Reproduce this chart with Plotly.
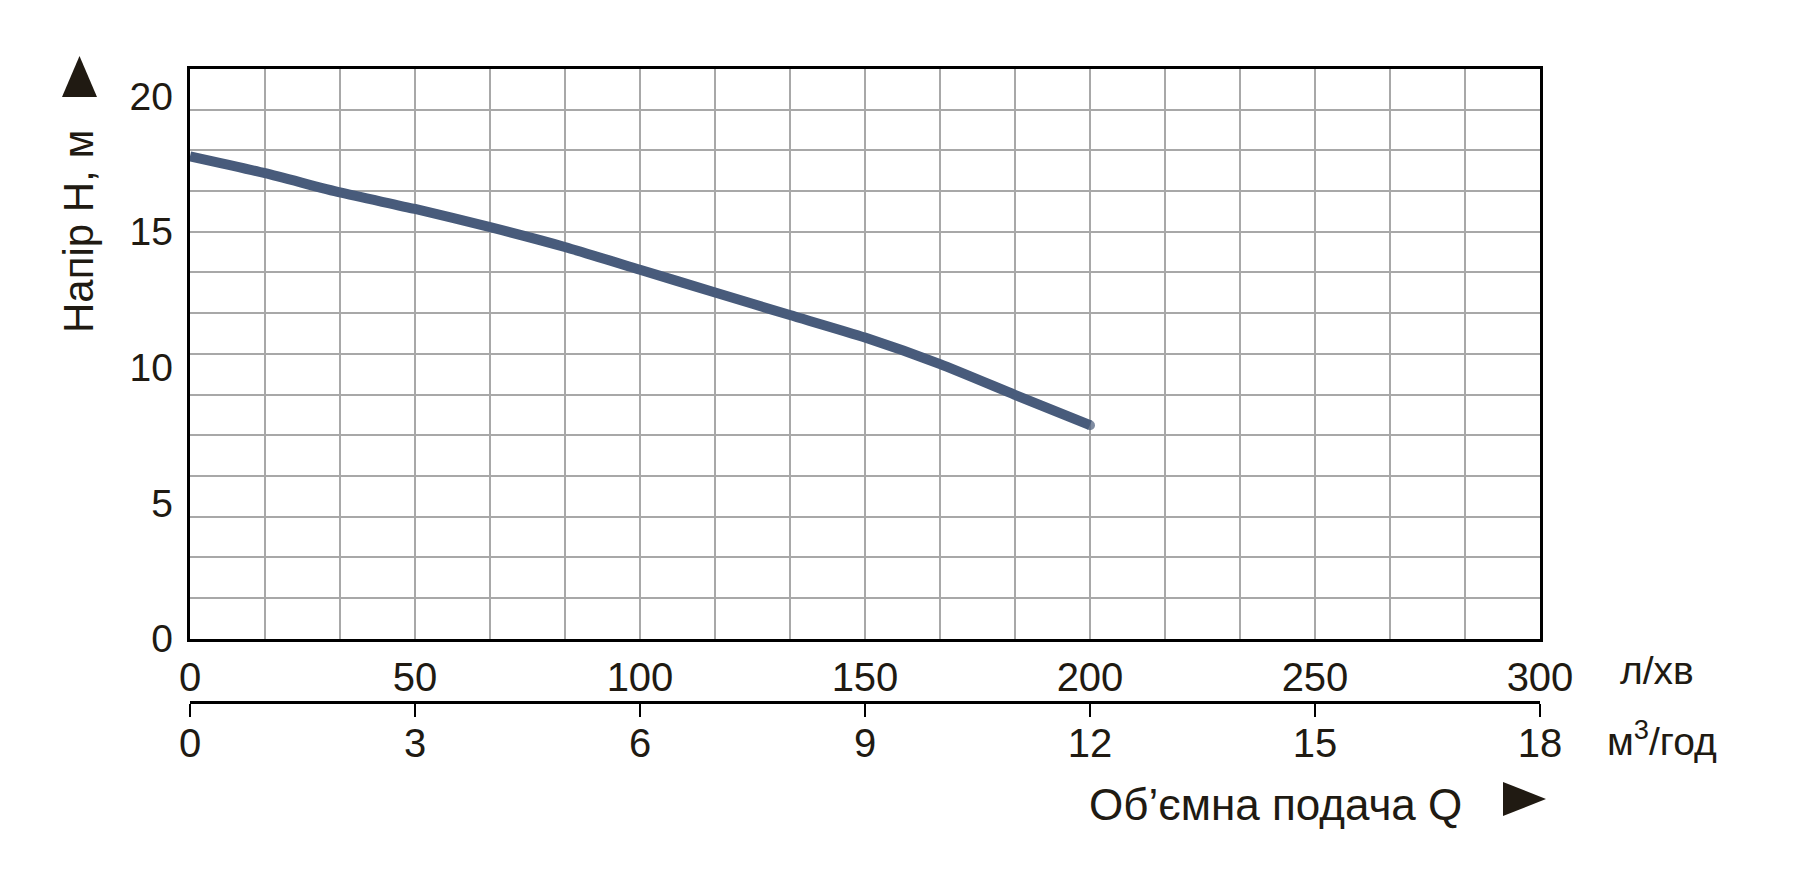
import plotly.graph_objects as go

# ---- data ----
flow_lpm = [0, 16.7, 33.3, 50, 66.7, 83.3, 100, 116.7, 133.3, 150, 166.7, 183.3, 200]
head_m = [17.78, 17.16, 16.45, 15.84, 15.17, 14.44, 13.60, 12.76, 11.93, 11.10, 10.12, 8.99, 7.87]

lpm_ticks = [0, 50, 100, 150, 200, 250, 300]
m3h_ticks = [0, 3, 6, 9, 12, 15, 18]
head_ticks = [0, 5, 10, 15, 20]

y_title = "Напір H, м"
x_title = "Об’ємна подача Q"
unit_lpm = "л/хв"
unit_m3h = "м<sup>3</sup>/год"

# ---- styling ----
FONT = "Liberation Sans, Arial, sans-serif"
TXT = "#201a12"
GRID = "#a8a8a8"
LINE = "#485b7b"

W, H = 1800, 884
ML, MR, MT, MB = 190, 260, 69, 182
PW, PH = W - ML - MR, H - MT - MB


def px(x):
    return (x - ML) / PW


def py(y):
    return (H - MB - y) / PH


fig = go.Figure()
n = len(flow_lpm)
fig.add_trace(go.Scatter(
    x=flow_lpm, y=head_m, mode="lines+markers",
    line=dict(color=LINE, width=10, shape="spline", smoothing=0.6),
    marker=dict(color=LINE, size=[0] * (n - 1) + [10], line=dict(width=0)),
    hoverinfo="skip", showlegend=False,
))

ydom0 = py(638.7)

fig.update_layout(
    width=W, height=H,
    margin=dict(l=ML, r=MR, t=MT, b=MB, pad=0),
    paper_bgcolor="white", plot_bgcolor="white",
    font=dict(family=FONT, color=TXT, size=40),
    showlegend=False,
    xaxis=dict(
        range=[0, 300], domain=[0, 1], anchor="y",
        tickvals=lpm_ticks, ticks="", ticklabelstandoff=1,
        tickfont=dict(size=40, color=TXT),
        showgrid=True, gridcolor=GRID, gridwidth=2,
        minor=dict(dtick=300 / 18, tick0=0, showgrid=True, gridcolor=GRID, gridwidth=2),
        showline=True, linecolor="black", linewidth=3, mirror=True,
        zeroline=False, fixedrange=True,
    ),
    xaxis2=dict(
        range=[0, 18], overlaying="x", anchor="free", position=0,
        tickvals=m3h_ticks, ticks="outside", ticklen=13, tickwidth=1.5, tickcolor="black",
        ticklabelstandoff=-8,
        tickfont=dict(size=40, color=TXT),
        showgrid=False, showline=True, linecolor="black", linewidth=2.5,
        zeroline=False, fixedrange=True,
    ),
    yaxis=dict(
        range=[0, 21], domain=[ydom0, 1], anchor="x",
        dtick=1.5, tick0=0, showticklabels=False, ticks="",
        showgrid=True, gridcolor=GRID, gridwidth=2,
        showline=True, linecolor="black", linewidth=3, mirror=True,
        zeroline=False, fixedrange=True,
    ),
    yaxis2=dict(
        range=[0, 21], overlaying="y", side="left", anchor="x",
        tickvals=head_ticks, ticks="", ticklabelstandoff=16,
        tickfont=dict(size=39, color=TXT),
        showgrid=False, showline=False, zeroline=False, fixedrange=True,
    ),
)

# invisible trace to bind the secondary axes
fig.add_trace(go.Scatter(x=[0], y=[0], xaxis="x2", yaxis="y2", mode="markers",
                         marker=dict(opacity=0), hoverinfo="skip", showlegend=False))

fig.add_annotation(text=y_title, xref="paper", yref="paper", x=px(78), y=py(232),
                   textangle=-90, showarrow=False, xanchor="center", yanchor="middle",
                   font=dict(size=42, color=TXT, family=FONT))
fig.add_annotation(text=unit_lpm, xref="paper", yref="paper", x=px(1657), y=py(670),
                   showarrow=False, xanchor="center", yanchor="middle",
                   font=dict(size=39, color=TXT, family=FONT))
fig.add_annotation(text=unit_m3h, xref="paper", yref="paper", x=px(1662), y=py(738),
                   showarrow=False, xanchor="center", yanchor="middle",
                   font=dict(size=39, color=TXT, family=FONT))
fig.add_annotation(text=x_title, xref="paper", yref="paper", x=px(1275), y=py(804),
                   showarrow=False, xanchor="center", yanchor="middle",
                   font=dict(size=44, color=TXT, family=FONT))

# axis arrows
up = [(79.5, 56), (62, 97), (97, 97)]
right = [(1503, 782), (1503, 816), (1546, 799)]
for tri in (up, right):
    path = "M {} {} L {} {} L {} {} Z".format(*[v for p in tri for v in (px(p[0]), py(p[1]))])
    fig.add_shape(type="path", path=path, xref="paper", yref="paper",
                  fillcolor=TXT, line=dict(width=0))

fig.write_html("out.html")
